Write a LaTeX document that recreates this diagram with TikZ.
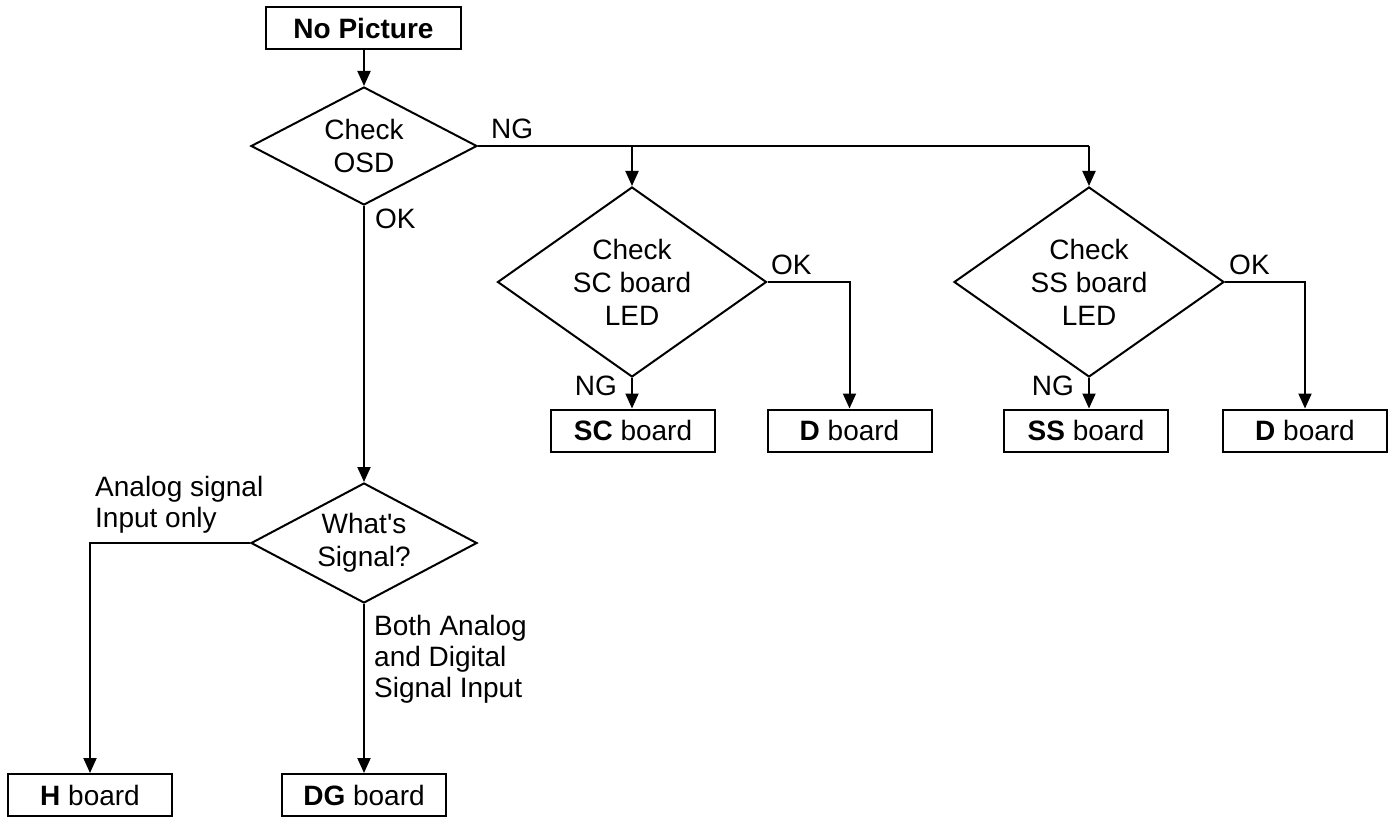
\documentclass[tikz,border=0pt]{standalone}
\usepackage{fontspec}
\setmainfont{Liberation Sans}
\usetikzlibrary{shapes.geometric,arrows.meta}
\begin{document}
\begin{tikzpicture}[x=1pt,y=-1pt,
  every node/.style={font=\fontsize{28}{31}\selectfont},
  box/.style={draw,line width=2pt,rectangle,minimum height=42pt,inner sep=0pt},
  dia/.style={draw,line width=2pt,diamond,inner sep=0pt},
  dtext/.style={align=center,inner sep=0pt,font=\fontsize{28}{33}\selectfont},
  lab/.style={inner sep=0pt,align=left},
  conn/.style={line width=2pt,-{Triangle[length=15pt,width=13pt]}},
  plain/.style={line width=2pt}]
\useasboundingbox (0,0) rectangle (1396,818);
% boxes
\node[box,minimum width=195pt] (np) at (363.5,28.5) {\textbf{No Picture}};
\node[box,minimum width=164pt] (scb) at (633,430.5) {\textbf{SC} board};
\node[box,minimum width=164pt] (d1) at (849.5,430.5) {\textbf{D} board};
\node[box,minimum width=164pt] (ssb) at (1086,430.5) {\textbf{SS} board};
\node[box,minimum width=164pt] (d2) at (1305,430.5) {\textbf{D} board};
\node[box,minimum width=164pt] (hb) at (90,795) {\textbf{H} board};
\node[box,minimum width=164pt] (dg) at (364,795) {\textbf{DG} board};
% diamonds
\node[dia,minimum width=226pt,minimum height=118pt,label={[dtext]center:Check\\OSD}] (osd) at (364,146) {};
\node[dia,minimum width=269pt,minimum height=190pt,label={[dtext]center:Check\\SC board\\LED}] (sc) at (632,282) {};
\node[dia,minimum width=270pt,minimum height=190pt,label={[dtext]center:Check\\SS board\\LED}] (ss) at (1089,282) {};
\node[dia,minimum width=226pt,minimum height=120pt,label={[dtext]center:What\textquotesingle s\\Signal?}] (sig) at (364,543) {};
% coordinates
\coordinate (jsc) at (sc.north |- osd.east);
\coordinate (jss) at (ss.north |- osd.east);
\coordinate (jd1) at (d1.north |- sc.east);
\coordinate (jd2) at (d2.north |- ss.east);
\coordinate (jh) at (hb.north |- sig.west);
% connectors
\draw[conn] (np.south -| osd.north) -- (osd.north);
\draw[plain] (osd.east) -- (jss);
\draw[conn] (jsc) -- (sc.north);
\draw[conn] (jss) -- (ss.north);
\draw[conn] (osd.south) -- (sig.north);
\draw[conn] (sc.south) -- (sc.south |- scb.north);
\draw[conn] (sc.east) -- (jd1) -- (d1.north);
\draw[conn] (ss.south) -- (ss.south |- ssb.north);
\draw[conn] (ss.east) -- (jd2) -- (d2.north);
\draw[conn] (sig.west) -- (jh) -- (hb.north);
\draw[conn] (sig.south) -- (dg.north);
% labels
\node[lab,anchor=west] (lng) at (491,129) {NG};
\node[lab,anchor=west] (lok) at (375,219) {OK};
\node[lab,anchor=west] (lok1) at (771,265) {OK};
\node[lab,anchor=east] (lng1) at (617,386) {NG};
\node[lab,anchor=west] (lok2) at (1229,265) {OK};
\node[lab,anchor=east] (lng2) at (1074,386) {NG};
\node[lab,anchor=west] (lan) at (95,505) {Analog signal\\Input only};
\node[lab,anchor=north west] (lboth) at (374,615) {Both Analog\\and Digital\\Signal Input};
\end{tikzpicture}
\end{document}
